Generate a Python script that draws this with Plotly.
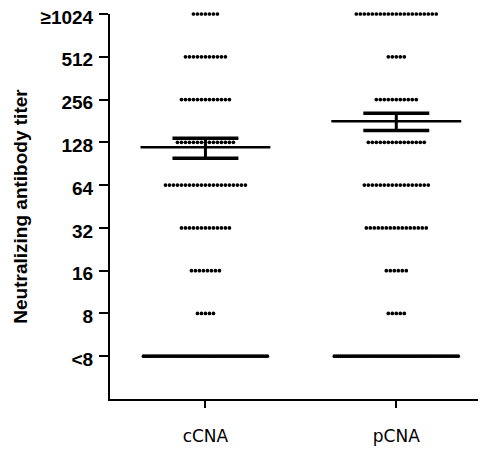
import math
import plotly.graph_objects as go

# ---- data ----
groups = ["cCNA", "pCNA"]
titer_levels = [4, 8, 16, 32, 64, 128, 256, 512, 1024]   # 4 stands for "<8"
tick_labels = ["<8", "8", "16", "32", "64", "128", "256", "512", "≥1024"]
cCNA_counts = [62, 5, 8, 13, 21, 15, 13, 11, 7]
pCNA_counts = [62, 5, 6, 16, 17, 15, 11, 5, 21]
group_means = [118, 180]
group_sems = [19, 25]

# ---- style ----
px_per_unit = 191.0
dot_step = 4.0 / px_per_unit
max_row_width = 124.0 / px_per_unit
mean_half = 65.0 / px_per_unit
sem_half = 33.0 / px_per_unit

fig = go.Figure()

for gi, (g, counts) in enumerate(zip(groups, [cCNA_counts, pCNA_counts])):
    xs, ys = [], []
    for lvl, n in zip(titer_levels, counts):
        step = dot_step
        if n > 1 and (n - 1) * step > max_row_width:
            step = max_row_width / (n - 1)
        for i in range(n):
            xs.append(gi + (i - (n - 1) / 2) * step)
            ys.append(math.log2(lvl))
    fig.add_trace(go.Scatter(x=xs, y=ys, mode="markers",
                             marker=dict(size=3.7, color="black", line=dict(width=0)),
                             showlegend=False, hoverinfo="skip", cliponaxis=False))
    m = math.log2(group_means[gi])
    hi = math.log2(group_means[gi] + group_sems[gi])
    lo = math.log2(group_means[gi] - group_sems[gi])
    # mean line
    fig.add_trace(go.Scatter(x=[gi - mean_half, gi + mean_half], y=[m, m], mode="lines",
                             line=dict(color="black", width=2.5), showlegend=False, hoverinfo="skip"))
    # SEM bars
    for yv in (hi, lo):
        fig.add_trace(go.Scatter(x=[gi - sem_half, gi + sem_half], y=[yv, yv], mode="lines",
                                 line=dict(color="black", width=3.5), showlegend=False, hoverinfo="skip"))
    fig.add_trace(go.Scatter(x=[gi, gi], y=[lo, hi], mode="lines",
                             line=dict(color="black", width=3), showlegend=False, hoverinfo="skip"))

fig.update_layout(
    width=486, height=449,
    margin=dict(l=102, r=8, t=6, b=58),
    plot_bgcolor="white", paper_bgcolor="white",
    font=dict(family="Liberation Sans, Arial, sans-serif", color="black"),
)
fig.update_xaxes(
    range=[-0.5, 1.47], tickvals=[0, 1], ticktext=groups,
    showline=True, linecolor="black", linewidth=2,
    ticks="outside", ticklen=7, tickwidth=2, tickcolor="black",
    ticklabelstandoff=14, automargin=False,
    tickfont=dict(family="DejaVu Sans, Verdana, sans-serif", size=17, color="black"),
    showgrid=False, zeroline=False,
)
fig.update_yaxes(
    range=[1, 10], tickvals=[math.log2(v) for v in titer_levels], ticktext=tick_labels,
    showline=True, linecolor="black", linewidth=2,
    ticks="outside", ticklen=9, tickwidth=2, tickcolor="black",
    ticklabelstandoff=2, ticklabelshift=3, automargin=False, ticklabeloverflow="allow",
    tickfont=dict(family="Liberation Sans, Arial, sans-serif", size=19, color="black", weight="bold"),
    title=dict(text="<b>Neutralizing antibody titer</b>", standoff=8,
               font=dict(family="Liberation Sans, Arial, sans-serif", size=19, color="black")),
    showgrid=False, zeroline=False,
)

fig.write_html("out.html")
